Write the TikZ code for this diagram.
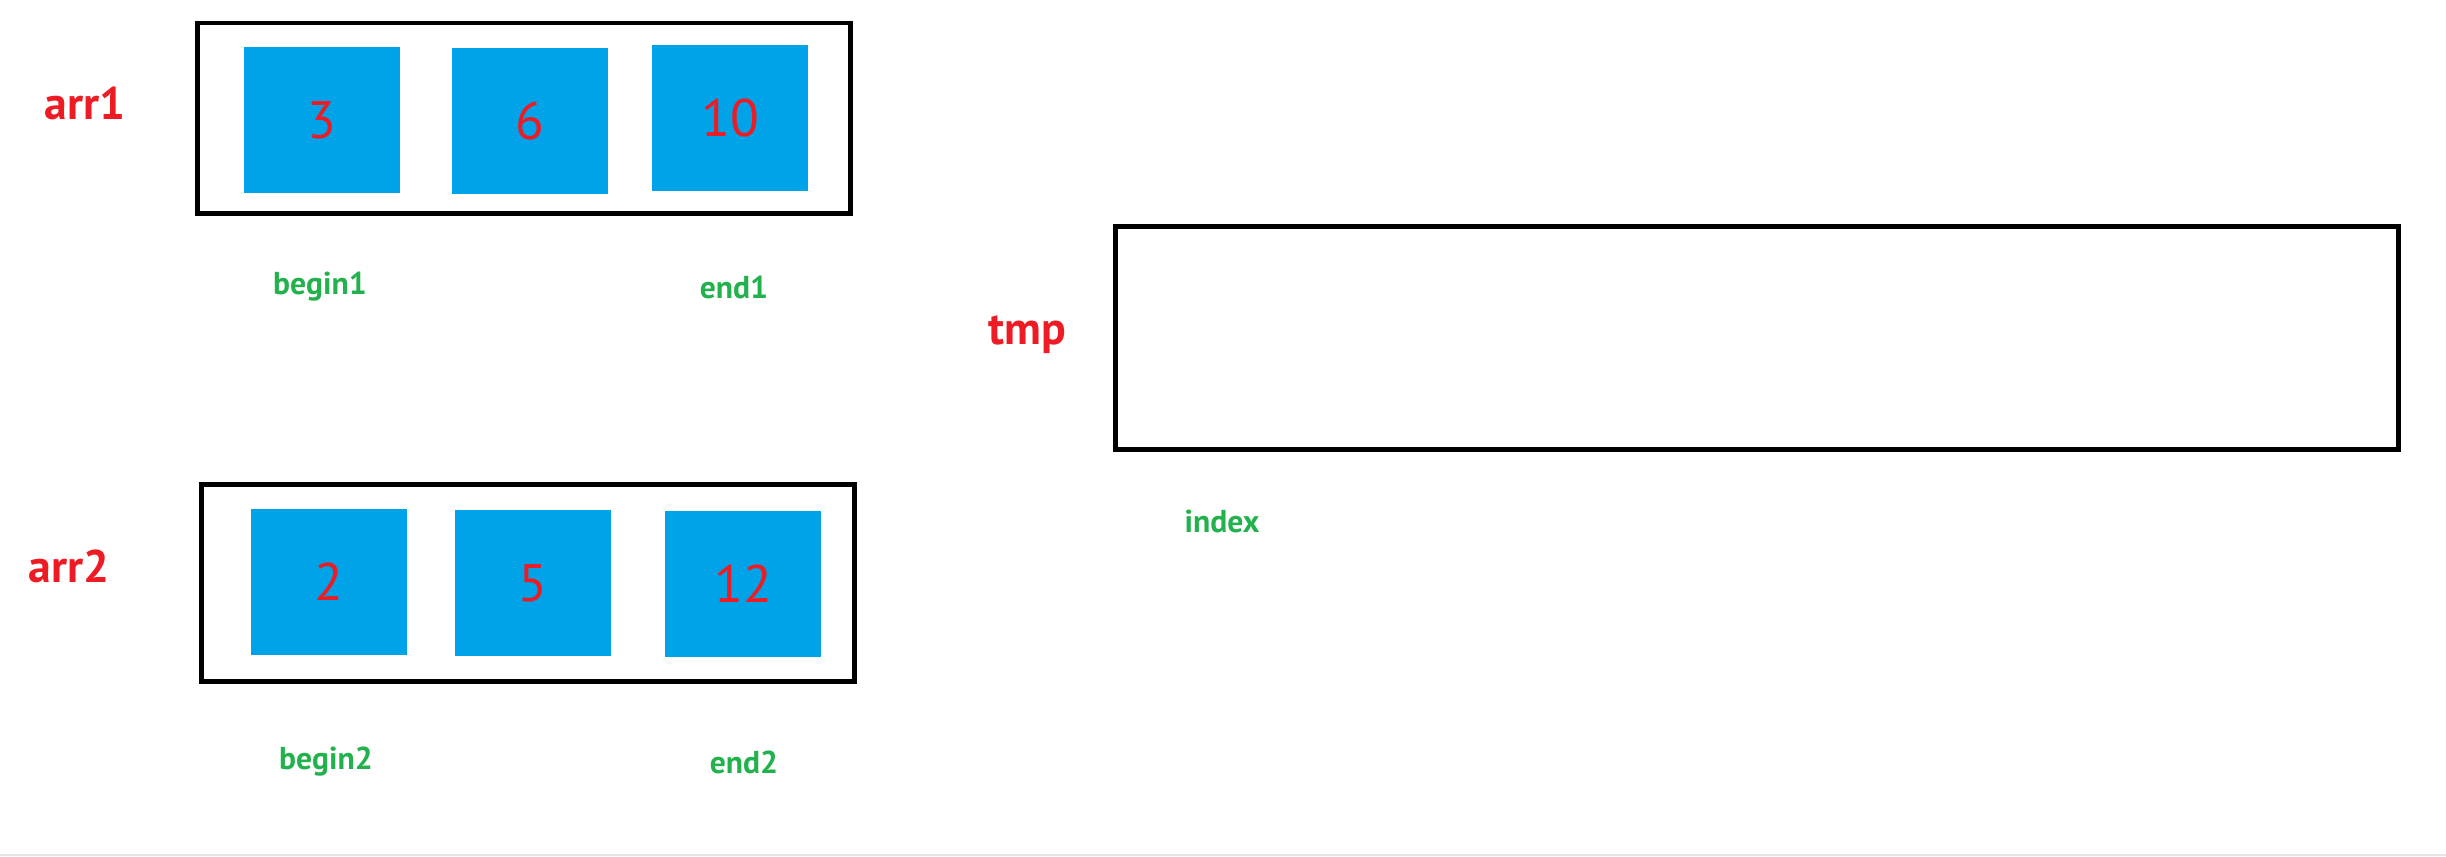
\documentclass[tikz,border=0pt]{standalone}
\usepackage{fontspec}
\setmainfont{PT Sans}
\usetikzlibrary{positioning}
\definecolor{cellblue}{RGB}{0,162,232}
\definecolor{numred}{RGB}{237,28,36}
\definecolor{ptrgreen}{RGB}{34,177,76}

\begin{document}
\begin{tikzpicture}[x=0.01cm, y=-0.01cm,
    arrbox/.style={draw, line width=1.4pt, inner sep=0pt},
    cell/.style={fill=cellblue, minimum width=1.55cm, minimum height=1.45cm, inner sep=0pt, font=\fontsize{15}{17}\selectfont, text=numred},
    arrname/.style={font=\fontsize{13}{15}\selectfont\bfseries, text=numred},
    ptr/.style={font=\fontsize{9}{11}\selectfont\bfseries, text=ptrgreen},
]
\useasboundingbox (0,0) rectangle (2446,856);
\draw[gray!20, line width=0.6pt] (0,855) -- (2446,855);

% arr1
\node[arrbox, minimum width=6.52cm, minimum height=1.9cm] (box1) at (524,118) {};
\node[cell] (a1) at (322,120) {3};
\node[cell] (a2) at (530,121) {6};
\node[cell] (a3) at (730,118) {10};
\node[arrname] (arr1) at (85,103) {arr1};

% arr2
\node[arrbox, minimum width=6.52cm, minimum height=1.97cm] (box2) at (528,583) {};
\node[cell] (b1) at (329,582) {2};
\node[cell] (b2) at (533,583) {5};
\node[cell] (b3) at (743,584) {12};
\node[arrname] (arr2) at (69,566) {arr2};

% tmp
\node[arrbox, minimum width=12.82cm, minimum height=2.22cm] (tmpbox) at (1757,338) {};
\node[arrname] (tmp) at (1027,335) {tmp};

% pointers
\node[ptr] (begin1) at (320,287) {begin1};
\node[ptr] (end1) at (734,287) {end1};
\node[ptr] (begin2) at (326,762) {begin2};
\node[ptr] (end2) at (744,762) {end2};
\node[ptr] (index) at (1222,521) {index};
\end{tikzpicture}
\end{document}
